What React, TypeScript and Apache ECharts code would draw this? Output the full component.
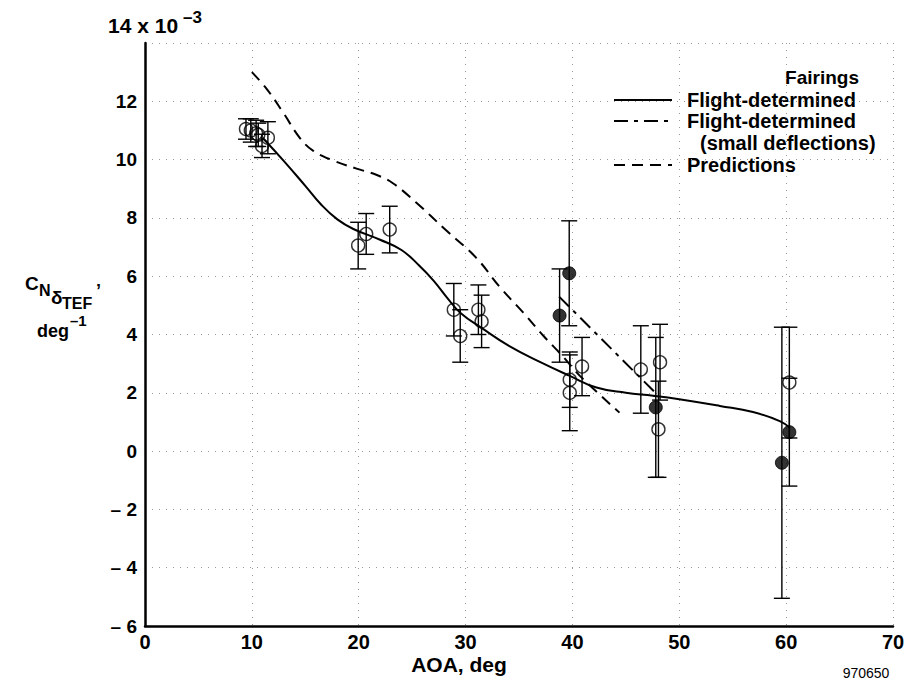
import React, { useEffect, useRef } from 'react';
import * as echarts from 'echarts';

// ---- Data ----
const xTickValues = [0, 10, 20, 30, 40, 50, 60, 70];
const yTickValues = [-6, -4, -2, 0, 2, 4, 6, 8, 10, 12, 14];

// Open circles (flight-determined, fairings)
const openAoa = [9.45, 9.9, 10.4, 10.6, 10.95, 11.5, 19.95, 20.7, 22.9, 28.9, 29.5, 31.2, 31.5, 39.75, 39.75, 40.9, 46.4, 48.2, 48.05, 60.3];
const openCoef = [11.05, 11.0, 10.9, 10.85, 10.47, 10.75, 7.05, 7.45, 7.6, 4.85, 3.95, 4.85, 4.45, 2.45, 2.0, 2.9, 2.8, 3.05, 0.75, 2.35];
const openErr = [0.35, 0.4, 0.45, 0.4, 0.4, 0.55, 0.8, 0.7, 0.8, 0.9, 0.9, 0.85, 0.9, 0.95, 1.3, 1.0, 1.5, 1.3, 1.65, 1.9];

// Filled circles (small deflections)
const filledAoa = [38.8, 39.7, 47.8, 59.6, 60.3];
const filledCoef = [4.65, 6.1, 1.5, -0.4, 0.65];
const filledErr = [1.6, 1.8, 2.4, 4.65, 1.85];

// Flight-determined fairing curve
const solidAoa = [11.0, 13.0, 15.0, 16.5, 18.0, 19.5, 22.0, 24.0, 25.7, 27.0, 28.3, 29.5, 31.6, 34.1, 37.0, 39.75, 42.25, 45.0, 47.55, 50.0, 53.8, 56.9, 59.4, 60.35];
const solidCoef = [10.75, 9.95, 9.1, 8.45, 7.95, 7.62, 7.25, 6.9, 6.35, 5.85, 5.25, 4.75, 4.2, 3.6, 3.05, 2.58, 2.18, 2.0, 1.9, 1.78, 1.55, 1.34, 1.03, 0.8];

// Flight-determined (small deflections)
const smallAoa = [38.75, 47.9];
const smallCoef = [5.3, 1.95];

// Predictions
const predAoa = [10.0, 11.4, 12.9, 14.5, 15.75, 17.6, 19.8, 21.7, 23.2, 25.4, 28.1, 31.0, 33.2, 35.4, 37.3, 39.1, 40.7, 44.4];
const predCoef = [13.0, 12.42, 11.63, 10.74, 10.3, 9.97, 9.69, 9.47, 9.19, 8.52, 7.6, 6.63, 5.63, 4.75, 3.95, 3.25, 2.58, 1.32];

const legendTitle = 'Fairings';
const legendLabels = ['Flight-determined', 'Flight-determined', '(small deflections)', 'Predictions'];

const FONT = "'Liberation Sans', Arial, Helvetica, sans-serif";

const pairs = (xs: number[], ys: number[]) => xs.map((x, i) => [x, ys[i]]);
const errRows = (xs: number[], ys: number[], es: number[]) => xs.map((x, i) => [x, ys[i] - es[i], ys[i] + es[i]]);

function errorBarSeries(data: number[][]) {
  return {
    type: 'custom',
    data,
    z: 3,
    renderItem: (params: any, api: any) => {
      const x = api.value(0);
      const lo = api.value(1);
      const hi = api.value(2);
      const pTop = api.coord([x, hi]);
      const pBot = api.coord([x, lo]);
      const w = 8;
      const st = { stroke: '#000', lineWidth: 1.4 };
      return {
        type: 'group',
        children: [
          { type: 'line', shape: { x1: pTop[0], y1: pTop[1], x2: pBot[0], y2: pBot[1] }, style: st },
          { type: 'line', shape: { x1: pTop[0] - w, y1: pTop[1], x2: pTop[0] + w, y2: pTop[1] }, style: st },
          { type: 'line', shape: { x1: pBot[0] - w, y1: pBot[1], x2: pBot[0] + w, y2: pBot[1] }, style: st },
        ],
      };
    },
  };
}

export default function App() {
  const ref = useRef<HTMLDivElement>(null);
  useEffect(() => {
    if (!ref.current) return;
    const chart = echarts.init(ref.current, undefined, { renderer: 'svg' });
    const txt = (text: string, x: number, y: number, size: number, extra: any = {}) => ({
      type: 'text',
      x,
      y,
      style: { text, fontFamily: FONT, fontWeight: 'bold', fontSize: size, fill: '#000', textVerticalAlign: 'middle', ...extra },
    });
    const legLine = (y: number, dash: any) => ({
      type: 'line',
      shape: { x1: 614, y1: y, x2: 672, y2: y },
      style: { stroke: '#000', lineWidth: 2, lineDash: dash },
    });
    const option: any = {
      animation: false,
      backgroundColor: '#fff',
      grid: { left: 145, right: 16, top: 43, bottom: 63 },
      xAxis: {
        type: 'value',
        min: xTickValues[0],
        max: xTickValues[xTickValues.length - 1],
        interval: 10,
        axisLine: { onZero: false, lineStyle: { color: '#000', width: 2.5 } },
        axisTick: { show: false },
        axisLabel: { color: '#000', fontFamily: FONT, fontWeight: 'bold', fontSize: 20, margin: 6 },
        splitLine: { show: true, lineStyle: { color: '#999', width: 1, type: [1, 6] } },
      },
      yAxis: {
        type: 'value',
        min: yTickValues[0],
        max: yTickValues[yTickValues.length - 1],
        interval: 2,
        axisLine: { show: true, onZero: false, lineStyle: { color: '#000', width: 2.5 } },
        axisTick: { show: false },
        axisLabel: {
          color: '#000', fontFamily: FONT, fontWeight: 'bold', fontSize: 19, margin: 8,
          formatter: (v: number) => (v === 14 ? '' : v < 0 ? '\u2013 ' + Math.abs(v) : String(v)),
        },
        splitLine: { show: true, lineStyle: { color: '#999', width: 1, type: [1, 6] } },
      },
      series: [
        {
          type: 'line', data: pairs(predAoa, predCoef), smooth: 0.4, showSymbol: false, z: 2,
          lineStyle: { color: '#000', width: 2, type: [11, 7] },
        },
        {
          type: 'line', data: pairs(smallAoa, smallCoef), showSymbol: false, z: 2,
          lineStyle: { color: '#000', width: 2, type: [14, 6, 4, 6] },
        },
        {
          type: 'line', data: pairs(solidAoa, solidCoef), smooth: 0.45, showSymbol: false, z: 2,
          lineStyle: { color: '#000', width: 2 },
        },
        errorBarSeries(errRows(openAoa, openCoef, openErr)),
        errorBarSeries(errRows(filledAoa, filledCoef, filledErr)),
        {
          type: 'scatter', data: pairs(openAoa, openCoef), symbol: 'circle', symbolSize: 13, z: 4,
          itemStyle: { color: 'rgba(0,0,0,0)', borderColor: '#000', borderWidth: 1.4 },
        },
        {
          type: 'scatter', data: pairs(filledAoa, filledCoef), symbol: 'circle', symbolSize: 13, z: 4,
          itemStyle: { color: '#000', borderColor: '#000', borderWidth: 1 },
        },
      ],
      graphic: [
        txt('14 x 10', 108, 25, 21),
        txt('\u20133', 183, 17, 17),
        // y axis name
        txt('C', 25, 283, 19),
        txt('N', 39, 290, 16),
        txt('\u03B4', 51, 297, 19),
        txt('TEF', 62, 303, 16),
        txt('\u2019', 96, 291, 18),
        txt('deg', 37, 331, 18),
        txt('\u20131', 70, 320, 15),
        // x axis name
        txt('AOA, deg', 459, 664, 21, { textAlign: 'center' }),
        txt('970650', 866, 673, 14, { textAlign: 'center', fontWeight: 'normal' }),
        // legend
        txt(legendTitle, 822, 77, 19, { textAlign: 'center' }),
        legLine(100, null),
        txt(legendLabels[0], 687, 100, 20),
        legLine(121, [14, 6, 4, 6]),
        txt(legendLabels[1], 687, 121, 20),
        txt(legendLabels[2], 700, 143, 20),
        legLine(165, [11, 7]),
        txt(legendLabels[3], 687, 165, 20),
      ],
    };
    chart.setOption(option);
    return () => chart.dispose();
  }, []);
  return <div ref={ref} style={{ position: 'fixed', left: 0, top: 0, width: 909, height: 689, background: '#fff' }} />;
}
